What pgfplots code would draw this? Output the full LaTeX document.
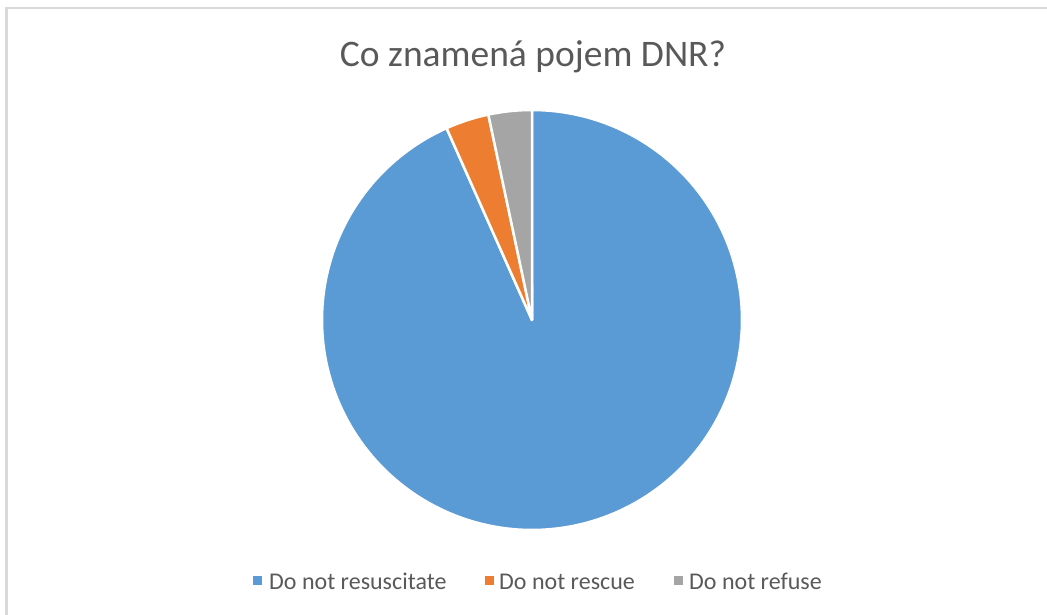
\documentclass[border=0pt]{standalone}
\usepackage{pgfplots}
\pgfplotsset{compat=1.18}
\usepackage{pgfplotstable}
\usepackage{fontspec}
\setmainfont{Carlito}
\definecolor{cblue}{HTML}{5B9BD5}
\definecolor{corange}{HTML}{ED7D31}
\definecolor{cgray}{HTML}{A5A5A5}
\definecolor{ctext}{HTML}{595959}
\definecolor{cborder}{HTML}{D9D9D9}

\pgfplotstableread{
label value
resuscitate 28
rescue 1
refuse 1
}\piedata

\pgfplotstablegetelem{0}{value}\of\piedata \let\vA\pgfplotsretval
\pgfplotstablegetelem{1}{value}\of\piedata \let\vB\pgfplotsretval
\pgfplotstablegetelem{2}{value}\of\piedata \let\vC\pgfplotsretval
\pgfmathsetmacro{\tot}{\vA+\vB+\vC}
\pgfmathsetmacro{\aA}{90}
\pgfmathsetmacro{\aB}{90-360*\vA/\tot}
\pgfmathsetmacro{\aC}{\aB-360*\vB/\tot}
\pgfmathsetmacro{\aD}{\aC-360*\vC/\tot}

\begin{document}
\begin{tikzpicture}
\begin{axis}[
  width=1047bp, height=615bp, scale only axis,
  xmin=0, xmax=1047, ymin=0, ymax=615,
  hide axis, clip=false,
  anchor=south west, at={(0,0)},
]
% border
\draw[cborder, line width=2bp] (axis cs:6.5,0) -- (axis cs:6.5,606.5) -- (axis cs:1047,606.5);
% wedges
\addplot[fill=cblue, draw=white, line width=2.5bp, line join=round, domain=\aB:\aA, samples=200, variable=\t]
  ({532+210*cos(t)},{295+210*sin(t)}) -- (axis cs:532,295) -- cycle;
\addplot[fill=corange, draw=white, line width=2.5bp, line join=round, domain=\aC:\aB, samples=20, variable=\t]
  ({532+210*cos(t)},{295+210*sin(t)}) -- (axis cs:532,295) -- cycle;
\addplot[fill=cgray, draw=white, line width=2.5bp, line join=round, domain=\aD:\aC, samples=20, variable=\t]
  ({532+210*cos(t)},{295+210*sin(t)}) -- (axis cs:532,295) -- cycle;
% title
\node[anchor=base, inner sep=0, text=ctext, font=\fontsize{37.5bp}{40bp}\selectfont] at (axis cs:533,548) {Co znamená pojem DNR?};
% legend
\fill[cblue] (axis cs:252.5,29.5) rectangle (axis cs:261.5,38.5);
\node[anchor=base west, inner sep=0, text=ctext, font=\fontsize{24bp}{26bp}\selectfont] at (axis cs:269,26) {Do not resuscitate};
\fill[corange] (axis cs:484.5,29.5) rectangle (axis cs:493.5,38.5);
\node[anchor=base west, inner sep=0, text=ctext, font=\fontsize{24bp}{26bp}\selectfont] at (axis cs:499,26) {Do not rescue};
\fill[cgray] (axis cs:673.5,29.5) rectangle (axis cs:682.5,38.5);
\node[anchor=base west, inner sep=0, text=ctext, font=\fontsize{24bp}{26bp}\selectfont] at (axis cs:689,26) {Do not refuse};
\end{axis}
\pgfresetboundingbox
\path[use as bounding box] (0,0) rectangle (1047bp,615bp);
\end{tikzpicture}
\end{document}
